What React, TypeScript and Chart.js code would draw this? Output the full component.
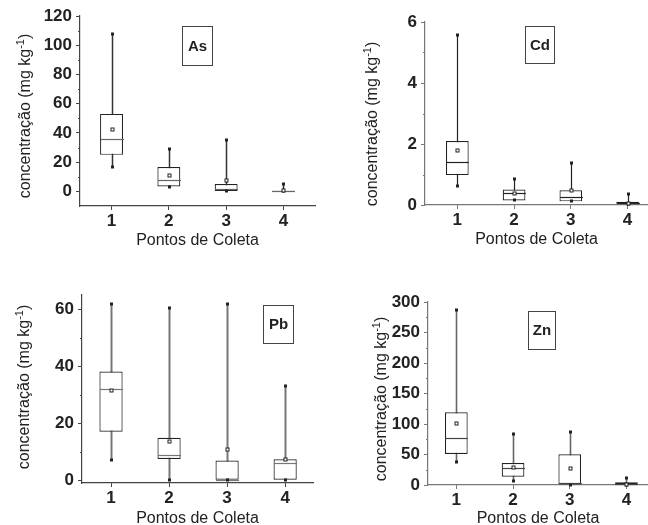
import React, { useEffect, useRef } from "react";
import { Chart, registerables } from "chart.js";
Chart.register(...registerables);

const categories = [1, 2, 3, 4];
const categoryLabels = ["1", "2", "3", "4"];
const xTitle = "Pontos de Coleta";
const yTitleMain = "concentração (mg kg";
const yTitleSup = "-1";
const yTitleEnd = ")";

const asMin = [17, 2.7, 0, 0];
const asQ1 = [25, 3.4, 0.3, 0];
const asMedian = [36, 8, 1.5, 0.1];
const asQ3 = [53, 16.6, 5, 0.4];
const asMax = [108, 29, 35.5, 5];
const asMean = [43, 11.4, 8, 1];
const asTicks = [0, 20, 40, 60, 80, 100, 120];

const cdMin = [0.63, 0.15, 0.12, 0.02];
const cdQ1 = [0.98, 0.15, 0.12, 0.04];
const cdMedian = [1.4, 0.4, 0.26, 0.07];
const cdQ3 = [2.1, 0.51, 0.48, 0.11];
const cdMax = [5.59, 0.84, 1.38, 0.35];
const cdMean = [1.8, 0.38, 0.48, 0.08];
const cdTicks = [0, 2, 4, 6];

const pbMin = [7, 0, 0, 0];
const pbQ1 = [17, 7.4, 0, 0];
const pbMedian = [32, 9, 0.2, 5.9];
const pbQ3 = [38.1, 14.9, 6.9, 7.3];
const pbMax = [61.9, 60.4, 61.9, 33];
const pbMean = [31.6, 13.8, 10.9, 7.6];
const pbTicks = [0, 20, 40, 60];

const znMin = [37, 6.6, 0, 0];
const znQ1 = [51, 13.7, 0, 0];
const znMedian = [76.6, 27.4, 3, 1];
const znQ3 = [119.3, 36, 50.4, 4.4];
const znMax = [287, 84, 86.5, 11];
const znMean = [102, 30, 28, 2];
const znTicks = [0, 50, 100, 150, 200, 250, 300];

const FONT = "'Liberation Sans', Arial, sans-serif";

type Panel = {
  name: string;
  left: number; top: number; w: number; h: number;
  area: { l: number; t: number; r: number; b: number };
  xMin: number; xMax: number; yMin: number; yMax: number;
  ticks: number[]; minorStep: number;
  min: number[]; q1: number[]; med: number[]; q3: number[]; max: number[]; mean: number[];
  box: { x: number; y: number; w: number; h: number };
  yTitle: { x: number; y: number };
  xTitleY: number;
  whisker: string; whiskerWidth: number; axis: string; medColor: string;
};

const panels: Panel[] = [
  {
    name: "As", left: 0, top: 0, w: 324, h: 262,
    area: { l: 80, t: 16, r: 315, b: 206 },
    xMin: 0.45, xMax: 4.55, yMin: -10, yMax: 120, ticks: asTicks, minorStep: 10,
    min: asMin, q1: asQ1, med: asMedian, q3: asQ3, max: asMax, mean: asMean,
    box: { x: 182, y: 26, w: 30, h: 39 }, yTitle: { x: 24, y: 116 }, xTitleY: 241,
    whisker: "#333", whiskerWidth: 1.5, axis: "#444", medColor: "#666",
  },
  {
    name: "Cd", left: 324, top: 0, w: 324, h: 262,
    area: { l: 101, t: 22, r: 324, b: 205 },
    xMin: 0.43, xMax: 4.36, yMin: 0, yMax: 6, ticks: cdTicks, minorStep: 1,
    min: cdMin, q1: cdQ1, med: cdMedian, q3: cdQ3, max: cdMax, mean: cdMean,
    box: { x: 201, y: 26, w: 29, h: 37 }, yTitle: { x: 47, y: 124 }, xTitleY: 240,
    whisker: "#222", whiskerWidth: 1.2, axis: "#777", medColor: "#222",
  },
  {
    name: "Pb", left: 0, top: 262, w: 324, h: 263,
    area: { l: 82, t: 33, r: 313, b: 221 },
    xMin: 0.5, xMax: 4.48, yMin: -1, yMax: 65, ticks: pbTicks, minorStep: 10,
    min: pbMin, q1: pbQ1, med: pbMedian, q3: pbQ3, max: pbMax, mean: pbMean,
    box: { x: 263, y: 43, w: 30, h: 38 }, yTitle: { x: 23, y: 125 }, xTitleY: 257,
    whisker: "#777", whiskerWidth: 2, axis: "#444", medColor: "#777",
  },
  {
    name: "Zn", left: 324, top: 262, w: 324, h: 263,
    area: { l: 104, t: 40, r: 324, b: 223 },
    xMin: 0.5, xMax: 4.38, yMin: 0, yMax: 300, ticks: znTicks, minorStep: 25,
    min: znMin, q1: znQ1, med: znMedian, q3: znQ3, max: znMax, mean: znMean,
    box: { x: 204, y: 49, w: 27, h: 38 }, yTitle: { x: 56, y: 137 }, xTitleY: 257,
    whisker: "#666", whiskerWidth: 1.6, axis: "#777", medColor: "#444",
  },
];

function makePlugin(p: Panel) {
  return {
    id: "boxplot-" + p.name,
    beforeDatasetsDraw(chart: any) {
      const { ctx } = chart;
      const xs = chart.scales.x;
      const ys = chart.scales.y;
      ctx.save();
      ctx.strokeStyle = p.whisker;
      ctx.lineWidth = p.whiskerWidth;
      categories.forEach((c, i) => {
        const x = Math.round(xs.getPixelForValue(c)) + 0.5;
        ctx.beginPath();
        ctx.moveTo(x, ys.getPixelForValue(p.min[i]));
        ctx.lineTo(x, ys.getPixelForValue(p.max[i]));
        ctx.stroke();
      });
      ctx.restore();
    },
    afterDatasetsDraw(chart: any) {
      const { ctx } = chart;
      const xs = chart.scales.x;
      const ys = chart.scales.y;
      const meta = chart.getDatasetMeta(0);
      ctx.save();
      categories.forEach((c, i) => {
        const x = Math.round(xs.getPixelForValue(c)) + 0.5;
        const half = meta.data[i].width / 2;
        // median
        const ym = Math.round(ys.getPixelForValue(p.med[i])) + 0.5;
        ctx.strokeStyle = p.medColor;
        ctx.lineWidth = 1.2;
        ctx.beginPath();
        ctx.moveTo(x - half, ym);
        ctx.lineTo(x + half, ym);
        ctx.stroke();
        // min / max markers
        ctx.fillStyle = "#222";
        [p.min[i], p.max[i]].forEach((v) => {
          const y = Math.round(ys.getPixelForValue(v));
          ctx.fillRect(x - 1.5, y - 1.5, 3, 3);
        });
        // mean marker
        const yMean = Math.round(ys.getPixelForValue(p.mean[i])) + 0.5;
        ctx.fillStyle = "#fff";
        ctx.fillRect(x - 1.5, yMean - 1.5, 3, 3);
        ctx.strokeStyle = "#222";
        ctx.lineWidth = 1;
        ctx.strokeRect(x - 1.5, yMean - 1.5, 3, 3);
      });
      ctx.restore();
    },
    afterDraw(chart: any) {
      const { ctx, chartArea } = chart;
      const ys = chart.scales.y;
      ctx.save();
      // minor ticks
      ctx.strokeStyle = p.axis;
      ctx.lineWidth = 1;
      for (let v = p.ticks[0] + p.minorStep; v < p.yMax; v += 2 * p.minorStep) {
        const y = Math.round(ys.getPixelForValue(v)) + 0.5;
        ctx.beginPath();
        ctx.moveTo(chartArea.left - 2, y);
        ctx.lineTo(chartArea.left, y);
        ctx.stroke();
      }
      // label box
      ctx.strokeStyle = "#444";
      ctx.lineWidth = 1;
      ctx.fillStyle = "#fff";
      ctx.fillRect(p.box.x, p.box.y, p.box.w, p.box.h);
      ctx.strokeRect(p.box.x + 0.5, p.box.y + 0.5, p.box.w, p.box.h);
      ctx.fillStyle = "#222";
      ctx.font = `bold 15px ${FONT}`;
      ctx.textAlign = "center";
      ctx.textBaseline = "middle";
      ctx.fillText(p.name, p.box.x + p.box.w / 2 + 0.5, p.box.y + p.box.h / 2 + 1);
      // x title
      ctx.font = `16px ${FONT}`;
      ctx.fillText(xTitle, (chartArea.left + chartArea.right) / 2, p.xTitleY);
      // y title with superscript
      ctx.translate(p.yTitle.x, p.yTitle.y);
      ctx.rotate(-Math.PI / 2);
      const mainFont = `16px ${FONT}`;
      const supFont = `11px ${FONT}`;
      ctx.font = mainFont;
      const w1 = ctx.measureText(yTitleMain).width;
      const w3 = ctx.measureText(yTitleEnd).width;
      ctx.font = supFont;
      const w2 = ctx.measureText(yTitleSup).width;
      const total = w1 + w2 + w3;
      let sx = -total / 2;
      ctx.textAlign = "left";
      ctx.textBaseline = "alphabetic";
      ctx.font = mainFont;
      ctx.fillText(yTitleMain, sx, 6);
      sx += w1;
      ctx.font = supFont;
      ctx.fillText(yTitleSup, sx, 0);
      sx += w2;
      ctx.font = mainFont;
      ctx.fillText(yTitleEnd, sx, 6);
      ctx.restore();
    },
  };
}

function BoxPanel({ p }: { p: Panel }) {
  const ref = useRef<HTMLCanvasElement>(null);
  useEffect(() => {
    const chart = new Chart(ref.current as HTMLCanvasElement, {
      type: "bar",
      data: {
        datasets: [
          {
            data: categories.map((c, i) => ({ x: c, y: [p.q1[i], p.q3[i]] })) as any,
            backgroundColor: "#fff",
            borderColor: "#222",
            borderWidth: 1.2,
            borderSkipped: false,
            barPercentage: 0.4,
            categoryPercentage: 1,
          } as any,
        ],
      },
      options: {
        responsive: false,
        animation: false,
        layout: { padding: { top: p.area.t, right: p.w - p.area.r, left: 0, bottom: 0 } },
        plugins: { legend: { display: false }, tooltip: { enabled: false } },
        scales: {
          x: {
            type: "linear",
            min: p.xMin,
            max: p.xMax,
            offset: false,
            afterBuildTicks: (s: any) => {
              s.ticks = categories.map((v) => ({ value: v }));
            },
            afterFit: (s: any) => {
              s.height = p.h - p.area.b;
            },
            ticks: {
              callback: (v: any) => categoryLabels[categories.indexOf(Number(v))] ?? "",
              font: { family: FONT, size: 17, weight: "bold" },
              color: "#222",
              padding: 1,
              maxRotation: 0,
              autoSkip: false,
            },
            grid: { drawOnChartArea: false, offset: false, tickLength: 4, color: p.axis, lineWidth: 1 },
            border: { display: true, color: p.axis, width: 1.2 },
          },
          y: {
            type: "linear",
            min: p.yMin,
            max: p.yMax,
            afterBuildTicks: (s: any) => {
              s.ticks = p.ticks.map((v) => ({ value: v }));
            },
            afterFit: (s: any) => {
              s.width = p.area.l;
            },
            ticks: {
              font: { family: FONT, size: 17, weight: "bold" },
              color: "#222",
              padding: 4,
            },
            grid: { drawOnChartArea: false, tickLength: 4, color: p.axis, lineWidth: 1 },
            border: { display: true, color: p.axis, width: 1.2 },
          },
        },
      } as any,
      plugins: [makePlugin(p)],
    });
    return () => chart.destroy();
  }, []);
  return (
    <canvas
      ref={ref}
      width={p.w}
      height={p.h}
      style={{ position: "absolute", left: p.left, top: p.top, width: p.w, height: p.h }}
    />
  );
}

export default function App() {
  return (
    <div style={{ position: "absolute", left: 0, top: 0, width: 648, height: 525, background: "#fff", overflow: "hidden" }}>
      {panels.map((p) => (
        <BoxPanel key={p.name} p={p} />
      ))}
    </div>
  );
}
